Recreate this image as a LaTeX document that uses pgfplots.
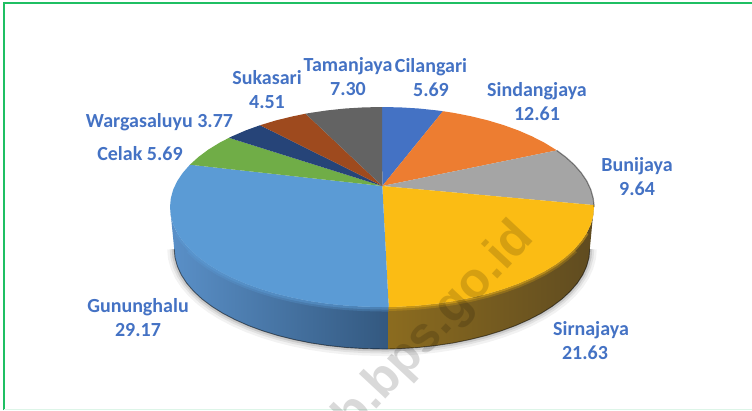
\documentclass[border=0pt]{standalone}
\usepackage{fontspec}
\setmainfont{Carlito}
\newfontfamily\wmfont{Liberation Sans}
\usepackage{pgfplots}
\usepackage{pgfplotstable}
\pgfplotsset{compat=1.18}
\definecolor{lab}{HTML}{4472C4}
\definecolor{cilangari}{HTML}{4472C4}
\definecolor{sindang}{HTML}{ED7D31}
\definecolor{bunijaya}{HTML}{A5A5A5}
\definecolor{sirna}{HTML}{FBBC14}
\definecolor{gunung}{HTML}{5B9BD5}
\definecolor{celak}{HTML}{70AD47}
\definecolor{warga}{HTML}{264478}
\definecolor{sukasari}{HTML}{9E4A1E}
\definecolor{taman}{HTML}{636363}
\definecolor{frame}{HTML}{1FBF63}
\definecolor{brownL}{HTML}{8C6C1F}
\definecolor{brownM}{HTML}{6E5620}
\definecolor{brownR}{HTML}{5F4B20}
\definecolor{blueL}{HTML}{5A90C8}
\definecolor{blueM}{HTML}{4273A8}
\definecolor{blueR}{HTML}{33587F}

% rim points of the top face, pixel coordinates
\pgfplotstableread{
x y
382.3 186
382 107
400.5 107.4
418.8 108.5
436.9 110.4
442.9 111.2
}\sliceCilangari
\pgfplotstableread{
x y
382.3 186
442.9 111.2
454.5 113
471.6 116.4
488 120.4
503.6 125.1
518.3 130.4
531.9 136.3
544.4 142.7
555.7 149.6
556.7 150.4
}\sliceSindang
\pgfplotstableread{
x y
382.3 186
556.7 150.4
565.6 157
574.1 164.7
581.2 172.8
586.8 181.1
590.8 189.6
593.2 198.3
594 205.1
}\sliceBuni
\pgfplotstableread{
x y
382.3 186
594 205.1
594 207
593.2 215.7
590.8 224.4
586.8 232.9
581.2 241.2
574.1 249.3
565.6 257
555.7 264.4
544.4 271.3
531.9 277.7
518.3 283.6
503.6 288.9
488 293.6
471.6 297.6
454.5 301
436.9 303.6
418.8 305.5
400.5 306.6
388.7 307
}\sliceSirna
\pgfplotstableread{
x y
382.3 186
388.7 307
382 307
363.5 306.6
345.2 305.5
327.1 303.6
309.5 301
292.4 297.6
276 293.6
260.4 288.9
245.7 283.6
232.1 277.7
219.6 271.3
208.3 264.4
198.4 257
189.9 249.3
182.8 241.2
177.2 232.9
173.2 224.4
170.8 215.7
170 207
170.8 198.3
173.2 189.6
177.2 181.1
182.8 172.8
189.9 164.7
}\sliceGunung
\pgfplotstableread{
x y
382.3 186
189.9 164.7
198.4 157
208.3 149.6
219.6 142.7
229 137.8
}\sliceCelak
\pgfplotstableread{
x y
382.3 186
229 137.8
232.1 136.3
245.7 130.4
260.1 125.2
}\sliceWarga
\pgfplotstableread{
x y
382.3 186
260.1 125.2
276 120.4
292.4 116.4
305.6 113.7
}\sliceSuka
\pgfplotstableread{
x y
382.3 186
305.6 113.7
309.5 113
327.1 110.4
345.2 108.5
363.5 107.4
382 107
}\sliceTaman

% lower edge of the side wall
\pgfplotstableread{
x y
589.8 249
589 257.7
586.6 266.4
582.7 274.9
577.3 283.2
570.3 291.3
562 299
552.2 306.4
541.2 313.3
528.9 319.7
515.6 325.6
501.2 330.9
485.9 335.6
469.8 339.6
453.1 343
435.8 345.6
418.1 347.5
400.1 348.6
388.5 349
382 349
363.9 348.6
345.9 347.5
328.2 345.6
310.9 343
294.2 339.6
278.1 335.6
262.8 330.9
248.4 325.6
235.1 319.7
222.8 313.3
211.8 306.4
202 299
193.7 291.3
186.7 283.2
181.3 274.9
177.4 266.4
175 257.7
174.2 249
}\wallEdge

\begin{document}
\begin{tikzpicture}
\begin{axis}[
  scale only axis, width=752pt, height=410pt,
  xmin=0, xmax=752, ymin=0, ymax=410, y dir=reverse,
  hide axis, clip=false, no markers,
]
% frame
\addplot[draw=frame, line width=1.6pt] coordinates {(4,410) (4,3) (752,3)};
\addplot[draw=frame!15, line width=1pt] coordinates {(4,409) (752,409)};

% soft shadow under the wall
\addplot[draw=black, opacity=.05, line width=14pt] table {\wallEdge};
\addplot[draw=black, opacity=.07, line width=9pt] table {\wallEdge};
\addplot[draw=black, opacity=.10, line width=5pt] table {\wallEdge};

% side wall
\addplot[draw=none, left color=brownL, middle color=brownM, right color=brownR] coordinates {
(594,205.1) (594,207) (593.2,215.7) (590.8,224.4) (586.8,232.9) (581.2,241.2)
(574.1,249.3) (565.6,257) (555.7,264.4) (544.4,271.3) (531.9,277.7) (518.3,283.6)
(503.6,288.9) (488,293.6) (471.6,297.6) (454.5,301) (436.9,303.6) (418.8,305.5)
(400.5,306.6) (386,307)
(386,349) (400.1,348.6) (418.1,347.5) (435.8,345.6) (453.1,343) (469.8,339.6)
(485.9,335.6) (501.2,330.9) (515.6,325.6) (528.9,319.7) (541.2,313.3) (552.2,306.4)
(562,299) (570.3,291.3) (577.3,283.2) (582.7,274.9) (586.6,266.4) (589,257.7) (589.8,249)
} -- cycle;
\addplot[draw=none, left color=blueL, middle color=blueM, right color=blueR] coordinates {
(388.7,307) (382,307) (363.5,306.6) (345.2,305.5) (327.1,303.6) (309.5,301) (292.4,297.6)
(276,293.6) (260.4,288.9) (245.7,283.6) (232.1,277.7) (219.6,271.3) (208.3,264.4)
(198.4,257) (189.9,249.3) (182.8,241.2) (177.2,232.9) (173.2,224.4) (170.8,215.7) (170,207)
(174.2,249) (175,257.7) (177.4,266.4) (181.3,274.9) (186.7,283.2) (193.7,291.3) (202,299)
(211.8,306.4) (222.8,313.3) (235.1,319.7) (248.4,325.6) (262.8,330.9) (278.1,335.6)
(294.2,339.6) (310.9,343) (328.2,345.6) (345.9,347.5) (363.9,348.6) (382,349) (388.5,349)
} -- cycle;
\addplot[draw=black, opacity=.5, line width=.9pt] table {\wallEdge};

% bevel along the front of the rim, half of it hidden by the top face
\addplot[draw=gunung, opacity=.30, line width=9pt, restrict y to domain=245:320] table {\sliceGunung};
\addplot[draw=gunung, opacity=.45, line width=5pt, restrict y to domain=230:320] table {\sliceGunung};
\addplot[draw=sirna, opacity=.22, line width=8pt, restrict y to domain=245:320] table {\sliceSirna};
\addplot[draw=sirna, opacity=.40, line width=4pt, restrict y to domain=230:320] table {\sliceSirna};

% top face
\addplot[fill=cilangari, draw=none] table {\sliceCilangari} -- cycle;
\addplot[fill=sindang, draw=none] table {\sliceSindang} -- cycle;
\addplot[fill=bunijaya, draw=none] table {\sliceBuni} -- cycle;
\addplot[fill=sirna, draw=none] table {\sliceSirna} -- cycle;
\addplot[fill=gunung, draw=none] table {\sliceGunung} -- cycle;
\addplot[fill=celak, draw=none] table {\sliceCelak} -- cycle;
\addplot[fill=warga, draw=none] table {\sliceWarga} -- cycle;
\addplot[fill=sukasari, draw=none] table {\sliceSuka} -- cycle;
\addplot[fill=taman, draw=none] table {\sliceTaman} -- cycle;

% dark edge on the right of the rim
\addplot[draw=black, opacity=.4, line width=1.2pt] coordinates {
(556.7,150.4) (565.6,157) (574.1,164.7) (581.2,172.8) (586.8,181.1) (590.8,189.6)
(593.2,198.3) (594,205.1) (594,207)};

% labels
\begin{scope}[every node/.style={font=\fontsize{20}{24}\selectfont\bfseries, text=lab, align=center, inner sep=0pt}]
\node at (axis cs:348,77) {Tamanjaya\\7.30};
\node at (axis cs:431,78) {Cilangari\\5.69};
\node at (axis cs:537,102) {Sindangjaya\\12.61};
\node at (axis cs:637,177) {Bunijaya\\9.64};
\node at (axis cs:591,330) {Sirnajaya};
\node at (axis cs:585,353) {21.63};
\node at (axis cs:138,318) {Gununghalu\\29.17};
\node at (axis cs:140,154) {Celak 5.69};
\node at (axis cs:159.5,122) {Wargasaluyu 3.77};
\node at (axis cs:267,90) {Sukasari\\4.51};
\end{scope}

% watermark
\node[rotate=47, opacity=.15, text=black, font=\wmfont\fontsize{50}{50}\selectfont\bfseries, inner sep=0pt]
  at (axis cs:435,328) {b.bps.go.id};
\end{axis}
\pgfresetboundingbox
\useasboundingbox (0,0) rectangle (752pt,410pt);
\end{tikzpicture}
\end{document}
